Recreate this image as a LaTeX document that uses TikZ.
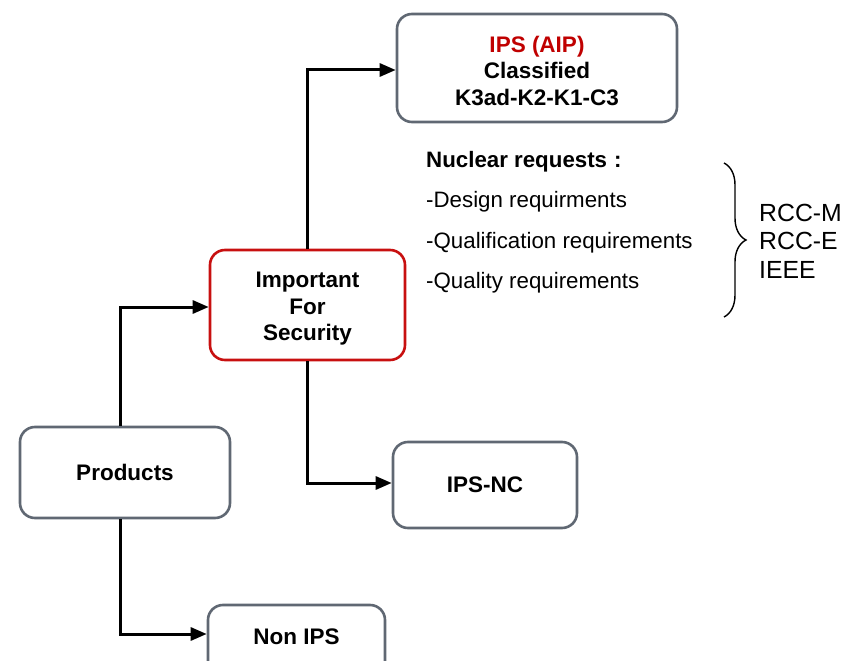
\documentclass[tikz,border=0pt]{standalone}
\usepackage{fontspec}
\setmainfont{Liberation Sans}
\usetikzlibrary{arrows.meta,decorations.pathreplacing}
\definecolor{boxgray}{RGB}{96,104,115}
\definecolor{boxred}{RGB}{200,16,16}
\definecolor{txtred}{RGB}{192,0,0}
\tikzset{
  gbox/.style={draw=boxgray, line width=2.6pt, rounded corners=15pt, fill=white,
    align=center, font=\fontsize{22.5}{26.5}\selectfont\bfseries, inner sep=0pt},
  rbox/.style={gbox, draw=boxred},
  conn/.style={line width=3pt, -{Triangle[length=16pt,width=13pt]}},
  listtxt/.style={anchor=west, inner sep=0pt, font=\fontsize{22.3}{25}\selectfont},
}
\begin{document}
\begin{tikzpicture}[x=1pt,y=-1pt]
\useasboundingbox (0,0) rectangle (847,661);
\clip (0,0) rectangle (847,661);
\node[gbox, minimum width=280pt, minimum height=108pt, text height=75pt, text depth=0pt] (top) at (537,68)
  {\textcolor{txtred}{IPS (AIP)}\\Classified\\K3ad-K2-K1-C3};
\node[rbox, minimum width=195pt, minimum height=110pt, text height=71pt, text depth=0pt] (ifs) at (307.5,305)
  {Important\\For\\Security};
\node[gbox, minimum width=210pt, minimum height=91pt] (prod) at (125,472.5) {Products};
\node[gbox, minimum width=184pt, minimum height=86pt] (ipsnc) at (485,485) {IPS-NC};
\node[gbox, minimum width=177pt, minimum height=75pt, text height=16pt, text depth=13pt] (nonips) at (296.5,642.5) {Non IPS};
\coordinate (vx) at (120,0);
\coordinate (hx) at (307,0);
\coordinate (ly1) at (0,307);
\coordinate (ly2) at (0,634);
\coordinate (ly3) at (0,70);
\coordinate (ly4) at (0,483);
\draw[conn] (prod.north -| vx) |- (ifs.west |- ly1);
\draw[conn] (prod.south -| vx) |- (nonips.west |- ly2);
\draw[conn] (ifs.north -| hx) |- (top.west |- ly3);
\draw[conn] (ifs.south -| hx) |- (ipsnc.west |- ly4);
\node[listtxt, font=\fontsize{22.3}{25}\selectfont\bfseries] (nr) at (426,162) {Nuclear requests\hspace{7pt}:};
\node[listtxt] (d1) at (426,202) {-Design requirments};
\node[listtxt] (d2) at (426,243) {-Qualification requirements};
\node[listtxt] (d3) at (426,283) {-Quality requirements};
\draw[line width=1.4pt, decorate, decoration={brace, amplitude=22pt}] (724,163) -- (724,317);
\node[anchor=west, inner sep=0pt, align=left, font=\fontsize{24.8}{28.5}\selectfont] (rcc) at (759,241) {RCC-M\\RCC-E\\IEEE};
\end{tikzpicture}
\end{document}
